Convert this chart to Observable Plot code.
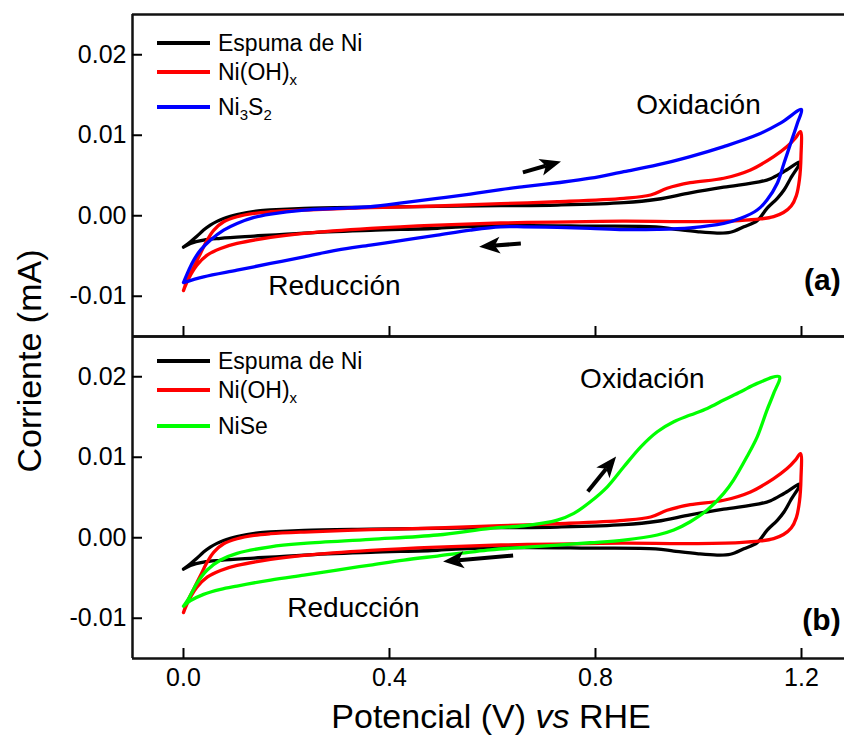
<!DOCTYPE html>
<html><head><meta charset="utf-8">
<script src="https://cdn.jsdelivr.net/npm/d3@7"></script>
<script src="https://cdn.jsdelivr.net/npm/@observablehq/plot@0.6"></script>
<style>
body{margin:0;background:#fff;font-family:"Liberation Sans",Arial,sans-serif;color:#000;}
#wrap{position:relative;width:844px;height:736px;overflow:hidden;background:#fff;}
#wrap svg{position:absolute;left:0;overflow:visible;}
.leg{position:absolute;left:157px;height:30px;display:flex;align-items:center;font-size:23px;white-space:nowrap;}
.leg span.ln{display:inline-block;width:53px;height:4.5px;margin-right:8px;}
.leg sub{font-size:15px;vertical-align:-5px;line-height:0;}
.note{position:absolute;white-space:nowrap;}
</style></head><body><div id="wrap"></div>
<script>
// ---- tick values / labels ----
const xTicks = [0, 0.4, 0.8, 1.2];
const xTickLabels = ["0.0", "0.4", "0.8", "1.2"];
const yTicks = [-0.01, 0, 0.01, 0.02];
const yTickLabels = ["-0.01", "0.00", "0.01", "0.02"];

// ---- series: Espuma de Ni (black loop) ----
const blackV = [0, 0.0136, 0.026, 0.039, 0.052, 0.065, 0.078, 0.091, 0.104, 0.123, 0.145, 0.169, 0.234, 0.363, 0.493, 0.616, 0.726, 0.855, 0.92, 0.984, 1.049, 1.118, 1.14, 1.166, 1.197,
  1.179, 1.166, 1.153, 1.133, 1.114, 1.088, 1.062, 1.036, 1.0, 0.952, 0.917, 0.788, 0.658, 0.529, 0.493, 0.363, 0.234, 0.137, 0.072, 0.039, 0.0136, 0];
const blackI = [-0.0039, -0.00322, -0.00255, -0.00178, -0.00116, -0.0007, -0.00035, -0.00008, 0.00015, 0.0004, 0.0006, 0.00072, 0.00092, 0.00106, 0.00117, 0.00125, 0.00133, 0.00162, 0.00205, 0.00285, 0.00355, 0.0042, 0.0046, 0.0055, 0.00665,
  0.00466, 0.0032, 0.00217, 0.00092, -0.0006, -0.00137, -0.00205, -0.00215, -0.002, -0.00165, -0.00137, -0.00128, -0.00122, -0.0014, -0.00155, -0.00182, -0.00215, -0.00253, -0.00281, -0.00303, -0.00344, -0.0039];

// ---- series: Ni(OH)x (red loop) ----
const redV = [0, 0.0072, 0.02, 0.033, 0.046, 0.059, 0.078, 0.104, 0.137, 0.169, 0.234, 0.363, 0.493, 0.616, 0.726, 0.855, 0.907, 0.939, 0.984, 1.049, 1.101, 1.146, 1.172, 1.188, 1.198,
  1.199, 1.196, 1.19, 1.18, 1.165, 1.146, 1.12, 1.079, 0.982, 0.852, 0.723, 0.616, 0.493, 0.363, 0.234, 0.169, 0.104, 0.072, 0.046, 0.026, 0.0136, 0.004, 0];
const redI = [-0.0093, -0.008, -0.00635, -0.00468, -0.00303, -0.00178, -0.00075, -0.00012, 0.0003, 0.0005, 0.00071, 0.001, 0.00121, 0.0015, 0.00174, 0.00216, 0.00258, 0.00341, 0.0041, 0.00466, 0.00569, 0.00735, 0.00859, 0.00964, 0.01046,
  0.0074, 0.0045, 0.0025, 0.0012, 0.0004, -0.0001, -0.0004, -0.0006, -0.00072, -0.00068, -0.00078, -0.0009, -0.00116, -0.00157, -0.00219, -0.00269, -0.00344, -0.00406, -0.00489, -0.00614, -0.00738, -0.00863, -0.0093];

// ---- series: Ni3S2 (blue loop, panel a) ----
const blueV = [0, 0.0103, 0.02, 0.033, 0.052, 0.078, 0.104, 0.137, 0.169, 0.234, 0.298, 0.363, 0.428, 0.493, 0.557, 0.616, 0.661, 0.726, 0.79, 0.855, 0.92, 0.984, 1.049, 1.114, 1.159, 1.2,
  1.192, 1.179, 1.166, 1.153, 1.133, 1.114, 1.082, 1.049, 0.984, 0.92, 0.855, 0.79, 0.726, 0.661, 0.616, 0.557, 0.493, 0.428, 0.363, 0.298, 0.234, 0.169, 0.104, 0.039, 0];
const blueI = [-0.0083, -0.00676, -0.00551, -0.00427, -0.00303, -0.00178, -0.00095, -0.0002, 0.00021, 0.00071, 0.00092, 0.00112, 0.00162, 0.00216, 0.0027, 0.00325, 0.00361, 0.0041, 0.00466, 0.00548, 0.00631, 0.00735, 0.00859, 0.01005, 0.0115, 0.0132,
  0.0115, 0.009, 0.00652, 0.00403, 0.00195, 0.00071, -0.00032, -0.00095, -0.0015, -0.00169, -0.00172, -0.00157, -0.00144, -0.00137, -0.00137, -0.00178, -0.0024, -0.00303, -0.00365, -0.00427, -0.0051, -0.00593, -0.00676, -0.00759, -0.0083];

// ---- series: NiSe (green loop, panel b) ----
const greenV = [0, 0.0103, 0.026, 0.046, 0.072, 0.104, 0.169, 0.234, 0.363, 0.493, 0.596, 0.661, 0.726, 0.758, 0.79, 0.823, 0.855, 0.888, 0.92, 0.952, 0.984, 1.017, 1.049, 1.082, 1.114, 1.157,
  1.146, 1.133, 1.114, 1.094, 1.068, 1.049, 1.017, 0.984, 0.952, 0.92, 0.855, 0.79, 0.726, 0.661, 0.596, 0.493, 0.428, 0.363, 0.298, 0.234, 0.169, 0.104, 0.072, 0.039, 0.0136, 0];
const greenI = [-0.0085, -0.00753, -0.00566, -0.00401, -0.00277, -0.00194, -0.00112, -0.0007, -0.0002, 0.00034, 0.00117, 0.00149, 0.0022, 0.00303, 0.00447, 0.00633, 0.00882, 0.0113, 0.01317, 0.01441, 0.01524, 0.01607, 0.0171, 0.01813, 0.01918, 0.02,
  0.01793, 0.01586, 0.01254, 0.01006, 0.00717, 0.00551, 0.00344, 0.00199, 0.00096, 0.00034, -0.00029, -0.00062, -0.00091, -0.00119, -0.0015, -0.00227, -0.00277, -0.00339, -0.00401, -0.00463, -0.00525, -0.006, -0.00641, -0.00703, -0.00782, -0.0085];

// ---- scan-direction arrows (data units) ----
const arrowsA = {x1: [0.660, 0.656], y1: [0.00532, -0.00352], x2: [0.734, 0.575], y2: [0.00669, -0.0039]};
const arrowsB = {x1: [0.786, 0.641], y1: [0.00568, -0.00227], x2: [0.841, 0.505], y2: [0.01003, -0.00302]};

// ---- annotations ----
const notesA = {text: ["Oxidación", "Reducción", "(a)"], x: [1.0, 0.293, 1.276], y: [0.01378, -0.00875, -0.0080]};
const notesB = {text: ["Oxidación", "Reducción", "(b)"], x: [0.891, 0.330, 1.276], y: [0.01971, -0.00873, -0.01022]};

const colors = {black: "#000000", red: "#ff0000", blue: "#0000ff", green: "#00ff00"};

const toRows = (V, I) => V.map((v, i) => ({v, i: I[i]}));
const xDomain = [-0.099, 1.2835];
const yDomain = [-0.015, 0.025];

function arrowMark(a) {
  return (index, scales) => {
    const g = d3.create("svg:g");
    for (let k = 0; k < a.x1.length; k++) {
      const ax = scales.x(a.x1[k]), ay = scales.y(a.y1[k]);
      const bx = scales.x(a.x2[k]), by = scales.y(a.y2[k]);
      const ang = Math.atan2(by - ay, bx - ax);
      const hl = 21, hw = 8.5;
      const cx = bx - hl * Math.cos(ang), cy = by - hl * Math.sin(ang);
      const ix = bx - (hl * 0.75) * Math.cos(ang), iy = by - (hl * 0.75) * Math.sin(ang);
      g.append("line").attr("x1", ax).attr("y1", ay).attr("x2", ix).attr("y2", iy)
        .attr("stroke", "#000").attr("stroke-width", 4);
      g.append("path")
        .attr("d", `M${bx},${by}L${cx - hw * Math.sin(ang)},${cy + hw * Math.cos(ang)}L${ix},${iy}L${cx + hw * Math.sin(ang)},${cy - hw * Math.cos(ang)}Z`)
        .attr("fill", "#000");
    }
    return g.node();
  };
}

function panel(series, arrows, notes, bottom) {
  const marks = [
    Plot.ruleY([yDomain[0], yDomain[1]], {stroke: "#111", strokeWidth: 2.5}),
    Plot.ruleX([xDomain[0]], {stroke: "#111", strokeWidth: 2.5}),
    Plot.axisY({ticks: yTicks, tickSize: -10, tickPadding: 16, strokeWidth: 2,
      tickFormat: d => yTickLabels[yTicks.findIndex(t => Math.abs(t - d) < 1e-9)], fontSize: 25}),
    Plot.axisX({ticks: xTicks, tickSize: -10, tickPadding: 20, strokeWidth: 2,
      tickFormat: d => bottom ? xTickLabels[xTicks.findIndex(t => Math.abs(t - d) < 1e-9)] : "", fontSize: 25})
  ];
  for (const s of series) {
    marks.push(Plot.line(toRows(s.V, s.I), {x: "v", y: "i", stroke: s.color, strokeWidth: 3.3, curve: "catmull-rom"}));
  }
  marks.push(arrowMark(arrows));
  marks.push(Plot.text(notes.text.slice(0, 2).map((t, k) => ({t, x: notes.x[k], y: notes.y[k]})),
    {x: "x", y: "y", text: "t", fontSize: 28, textAnchor: "middle", lineAnchor: "middle", fill: "#000"}));
  marks.push(Plot.text([{t: notes.text[2], x: notes.x[2], y: notes.y[2]}],
    {x: "x", y: "y", text: "t", fontSize: 30, fontWeight: "bold", textAnchor: "end", lineAnchor: "middle", fill: "#000"}));
  return Plot.plot({
    width: 844,
    height: bottom ? 404 : 340,
    marginTop: 4 + (bottom ? 0 : 10),
    marginBottom: bottom ? 78 : 4,
    marginLeft: 132,
    marginRight: 0,
    x: {domain: xDomain},
    y: {domain: yDomain},
    style: {fontFamily: "'Liberation Sans', Arial, sans-serif", fontSize: "24px", color: "#000", background: "transparent", overflow: "visible"},
    marks
  });
}

const wrap = document.getElementById("wrap");
const pa = panel([
  {V: blackV, I: blackI, color: colors.black},
  {V: redV, I: redI, color: colors.red},
  {V: blueV, I: blueI, color: colors.blue}
], arrowsA, notesA, false);
pa.style.top = "0px";
const pb = panel([
  {V: blackV, I: blackI, color: colors.black},
  {V: redV, I: redI, color: colors.red},
  {V: greenV, I: greenI, color: colors.green}
], arrowsB, notesB, true);
pb.style.top = "332px";
wrap.appendChild(pb);
wrap.appendChild(pa);

function legend(items, ys) {
  items.forEach((it, k) => {
    const d = document.createElement("div");
    d.className = "leg";
    d.style.top = (ys[k] - 15) + "px";
    d.innerHTML = `<span class="ln" style="background:${it.color}"></span><span>${it.html}</span>`;
    wrap.appendChild(d);
  });
}
legend([
  {color: colors.black, html: "Espuma de Ni"},
  {color: colors.red, html: "Ni(OH)<sub>x</sub>"},
  {color: colors.blue, html: "Ni<sub>3</sub>S<sub>2</sub>"}
], [43, 72, 107]);
legend([
  {color: colors.black, html: "Espuma de Ni"},
  {color: colors.red, html: "Ni(OH)<sub>x</sub>"},
  {color: colors.green, html: "NiSe"}
], [361, 390, 426]);

const yt = document.createElement("div");
yt.className = "note";
yt.style.cssText += "left:29px;top:361px;font-size:34px;transform:translate(-50%,-50%) rotate(-90deg);";
yt.textContent = "Corriente (mA)";
wrap.appendChild(yt);

const xt = document.createElement("div");
xt.className = "note";
xt.style.cssText += "left:491px;top:716px;font-size:34px;transform:translate(-50%,-50%);";
xt.innerHTML = "Potencial (V) <i>vs</i> RHE";
wrap.appendChild(xt);
</script></body></html>
